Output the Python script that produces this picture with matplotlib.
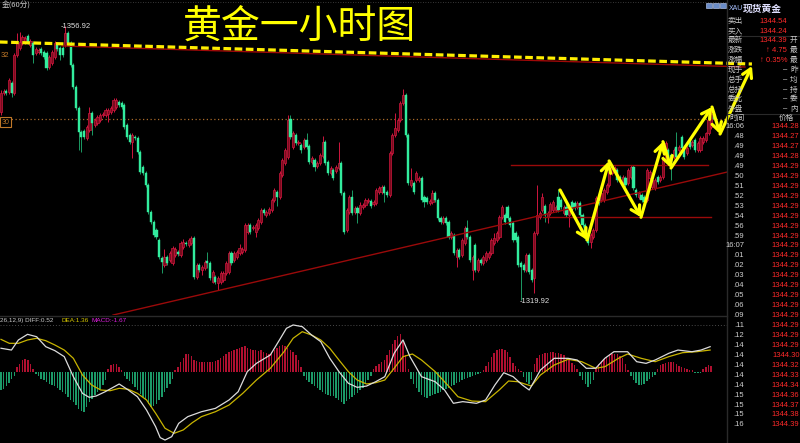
import numpy as np
import matplotlib
matplotlib.use('Agg')
import matplotlib.pyplot as plt

plt.rcParams['font.family'] = ['Noto Sans CJK SC', 'DejaVu Sans']

# ---------------- data: hourly candles (price) ----------------
opens = [1345.31, 1347.88, 1348.15, 1348.01, 1349.23, 1347.88, 1353.01, 1353.95, 1354.63, 1354.76,
 1355.57, 1354.36, 1354.63, 1353.28, 1353.41, 1353.82, 1353.41, 1353.28, 1351.39, 1351.93,
 1352.74, 1354.36, 1353.95, 1353.95, 1354.36, 1355.98, 1354.63, 1351.66, 1348.69, 1345.85,
 1342.61, 1342.75, 1341.80, 1342.88, 1345.18, 1343.56, 1343.83, 1344.23, 1344.91, 1344.91,
 1345.04, 1345.31, 1345.58, 1345.99, 1346.66, 1346.53, 1346.26, 1343.56, 1342.21, 1341.26,
 1341.94, 1341.80, 1339.91, 1337.89, 1337.08, 1335.46, 1331.81, 1330.46, 1329.38, 1328.03,
 1325.60, 1324.66, 1325.74, 1325.33, 1324.93, 1326.01, 1326.41, 1326.01, 1327.09, 1327.63,
 1327.36, 1327.63, 1328.30, 1323.04, 1324.66, 1323.98, 1324.25, 1325.20, 1324.93, 1322.36,
 1323.04, 1322.23, 1322.36, 1322.63, 1323.58, 1323.71, 1326.28, 1325.33, 1325.74, 1326.28,
 1326.41, 1326.68, 1329.11, 1330.06, 1329.65, 1329.11, 1329.65, 1330.46, 1332.08, 1331.41,
 1331.68, 1332.08, 1333.43, 1334.51, 1333.84, 1336.81, 1338.43, 1339.24, 1344.37, 1340.59,
 1342.21, 1341.13, 1340.86, 1340.59, 1341.53, 1340.72, 1338.56, 1338.83, 1338.02, 1338.43,
 1339.37, 1341.26, 1338.56, 1337.08, 1337.48, 1337.35, 1337.75, 1338.43, 1334.38, 1329.38,
 1331.81, 1333.84, 1331.81, 1332.35, 1331.68, 1332.49, 1332.76, 1333.30, 1333.30, 1332.89,
 1333.03, 1334.51, 1334.51, 1335.19, 1334.51, 1334.11, 1339.78, 1342.21, 1342.88, 1344.23,
 1346.53, 1347.61, 1342.21, 1335.46, 1335.73, 1336.13, 1336.13, 1336.40, 1333.84, 1333.70,
 1333.03, 1333.16, 1334.38, 1333.43, 1331.00, 1330.46, 1331.00, 1330.46, 1328.44, 1328.71,
 1325.74, 1326.68, 1326.01, 1327.63, 1329.65, 1328.44, 1323.98, 1327.36, 1323.98, 1325.33,
 1324.93, 1325.33, 1325.74, 1326.28, 1327.63, 1328.03, 1328.44, 1331.14, 1331.41, 1332.49,
 1331.00, 1330.33, 1328.98, 1328.44, 1324.93, 1324.66, 1323.98, 1326.01, 1323.98, 1322.90,
 1328.98, 1331.14, 1332.08, 1332.62, 1331.14, 1331.68, 1332.08, 1332.08, 1333.84, 1333.43,
 1331.68, 1332.49, 1331.41, 1333.16, 1333.03, 1332.49,
 1333.03, 1331.41, 1330.06, 1328.98, 1327.76, 1328.44, 1329.38, 1333.70, 1333.43, 1333.43,
 1334.51, 1335.46, 1337.08, 1337.21,
 1337.48, 1336.54, 1335.86, 1336.40, 1335.73, 1336.54, 1337.89, 1334.78, 1333.84, 1334.11, 1333.84,
 1333.43, 1336.40, 1335.19, 1335.05, 1336.54, 1336.13, 1336.54, 1339.10, 1340.18, 1339.51,
 1339.24, 1340.59, 1340.18, 1341.94, 1340.59,
 1339.78, 1341.53, 1340.86, 1341.53,
 1340.18, 1340.18, 1341.26, 1341.53, 1342.48, 1343.29, 1345.04]

closes = [1347.88, 1348.15, 1347.88, 1349.63, 1347.88, 1353.01, 1354.63, 1354.76, 1355.44, 1355.30,
 1354.76, 1354.90, 1353.01, 1353.82, 1353.68, 1353.28, 1352.74, 1351.25, 1352.74, 1353.41,
 1354.63, 1353.82, 1353.01, 1353.01, 1355.98, 1354.63, 1351.66, 1348.69, 1345.85, 1342.61,
 1341.94, 1341.94, 1343.29, 1345.18, 1343.83, 1344.23, 1344.64, 1344.91, 1345.04, 1345.58,
 1345.58, 1345.85, 1346.93, 1346.93, 1346.26, 1345.99, 1343.29, 1341.94, 1341.26, 1342.21,
 1341.80, 1339.91, 1337.21, 1337.08, 1335.46, 1331.81, 1330.46, 1328.71, 1328.44, 1325.74,
 1325.06, 1325.74, 1324.93, 1326.28, 1326.95, 1326.82, 1326.14, 1327.63, 1327.76, 1327.49,
 1328.03, 1328.30, 1323.04, 1324.66, 1323.98, 1324.39, 1325.06, 1324.93, 1322.90, 1323.71,
 1322.36, 1322.90, 1323.58, 1323.58, 1324.93, 1326.28, 1324.93, 1326.28, 1326.41, 1326.95,
 1326.82, 1330.06, 1330.06, 1329.11, 1329.79, 1330.06, 1330.73, 1332.08, 1331.68, 1331.81,
 1332.22, 1333.43, 1334.78, 1333.84, 1337.08, 1338.83, 1340.18, 1344.23, 1341.94, 1342.48,
 1341.13, 1341.26, 1340.18, 1341.53, 1340.59, 1338.56, 1339.10, 1337.89, 1338.43, 1339.51,
 1341.26, 1338.43, 1337.08, 1337.75, 1336.40, 1337.89, 1338.43, 1334.38, 1329.11, 1332.08,
 1333.84, 1331.68, 1332.35, 1331.68, 1332.76, 1332.76, 1333.43, 1333.43, 1332.62, 1333.16,
 1334.78, 1335.05, 1335.19, 1334.38, 1334.11, 1339.78, 1342.21, 1343.15, 1344.23, 1346.53,
 1347.61, 1342.21, 1335.73, 1336.13, 1334.51, 1337.08, 1336.40, 1333.43, 1333.16, 1333.16,
 1333.30, 1334.38, 1333.43, 1331.00, 1330.46, 1331.00, 1330.33, 1328.44, 1328.98, 1326.28,
 1326.68, 1325.74, 1328.03, 1329.65, 1328.44, 1325.33, 1325.74, 1323.98, 1325.33, 1324.93,
 1325.74, 1326.28, 1326.28, 1328.03, 1328.30, 1328.98, 1331.14, 1332.49, 1330.46, 1331.00,
 1330.06, 1328.03, 1328.03, 1324.66, 1324.39, 1323.98, 1326.01, 1323.71, 1322.63, 1328.98,
 1331.41, 1331.68, 1333.84, 1331.41, 1331.68, 1332.89, 1333.16, 1332.49, 1332.08, 1332.49,
 1332.49, 1331.41, 1332.35, 1332.08, 1332.35, 1333.03,
 1331.41, 1330.06, 1328.30, 1327.63, 1328.71, 1329.38, 1333.70, 1333.03, 1334.38, 1334.78,
 1335.46, 1337.21, 1337.89, 1337.75,
 1336.13, 1336.13, 1336.54, 1335.46, 1337.48, 1337.89, 1335.05, 1334.11, 1334.38, 1333.43, 1333.16,
 1337.48, 1337.21, 1336.13, 1336.13, 1335.86, 1336.54, 1339.10, 1341.13, 1338.43, 1338.16,
 1340.18, 1339.24, 1340.59, 1340.45, 1339.24,
 1340.45, 1340.59, 1341.26, 1340.18,
 1341.13, 1341.80, 1341.80, 1342.48, 1344.23, 1345.04, 1344.39]

highs = [1348.28, 1348.42, 1348.42, 1349.90, 1349.50, 1353.28, 1355.98, 1356.11, 1355.71, 1355.57,
 1355.84, 1355.17, 1354.90, 1354.09, 1353.95, 1354.09, 1353.68, 1353.55, 1353.01, 1353.68,
 1354.90, 1354.63, 1354.22, 1354.22, 1356.92, 1356.25, 1354.90, 1351.93, 1348.96, 1346.12,
 1342.88, 1343.02, 1343.56, 1345.99, 1345.45, 1344.50, 1344.91, 1345.18, 1345.31, 1345.85,
 1345.85, 1346.12, 1347.20, 1347.20, 1346.93, 1346.80, 1346.53, 1343.83, 1342.48, 1342.48,
 1342.21, 1342.07, 1340.18, 1338.16, 1337.35, 1335.73, 1332.08, 1330.73, 1329.65, 1328.30,
 1325.87, 1326.82, 1326.01, 1326.55, 1327.22, 1327.09, 1326.68, 1327.90, 1328.17, 1327.90,
 1328.30, 1328.57, 1328.57, 1324.93, 1324.93, 1324.66, 1325.33, 1326.41, 1325.20, 1323.98,
 1323.31, 1323.17, 1323.85, 1323.85, 1325.20, 1326.55, 1326.55, 1326.55, 1326.68, 1327.49,
 1327.09, 1330.33, 1330.33, 1330.33, 1330.06, 1330.33, 1331.00, 1332.35, 1332.35, 1332.08,
 1332.49, 1333.70, 1335.05, 1334.78, 1337.35, 1339.10, 1340.45, 1344.91, 1344.91, 1342.75,
 1342.48, 1341.53, 1341.13, 1341.80, 1342.48, 1340.99, 1339.37, 1339.10, 1338.70, 1339.78,
 1342.07, 1341.53, 1338.83, 1338.02, 1337.75, 1338.16, 1341.26, 1338.70, 1334.65, 1332.35,
 1334.11, 1334.78, 1332.62, 1332.62, 1333.16, 1333.03, 1333.70, 1333.70, 1333.57, 1333.43,
 1335.05, 1335.32, 1335.46, 1335.46, 1334.78, 1340.05, 1342.48, 1345.18, 1344.50, 1346.80,
 1348.42, 1347.88, 1342.48, 1337.75, 1336.00, 1337.35, 1336.67, 1336.67, 1334.11, 1333.97,
 1333.57, 1334.78, 1334.65, 1333.70, 1331.27, 1331.27, 1331.27, 1330.73, 1329.25, 1328.98,
 1326.95, 1326.95, 1328.30, 1329.92, 1330.73, 1328.71, 1326.01, 1327.63, 1325.60, 1325.60,
 1326.01, 1326.55, 1326.55, 1328.30, 1328.98, 1329.25, 1331.41, 1332.76, 1331.68, 1332.76,
 1331.27, 1330.60, 1329.25, 1328.71, 1325.20, 1324.93, 1326.28, 1326.28, 1324.25, 1329.25,
 1335.46, 1331.95, 1334.38, 1332.89, 1331.95, 1333.16, 1333.43, 1332.76, 1334.92, 1333.70,
 1332.76, 1333.43, 1332.62, 1333.43, 1333.30, 1333.30,
 1333.30, 1331.68, 1330.33, 1329.25, 1328.98, 1329.65, 1333.97, 1333.97, 1334.65, 1335.05,
 1335.73, 1337.48, 1338.16, 1338.02,
 1337.75, 1336.81, 1336.81, 1336.67, 1337.75, 1338.16, 1338.16, 1335.05, 1334.65, 1334.38, 1334.11,
 1337.75, 1337.48, 1336.40, 1336.40, 1336.81, 1336.81, 1339.37, 1341.40, 1340.45, 1339.78,
 1340.45, 1342.61, 1340.86, 1342.21, 1340.86,
 1340.72, 1341.80, 1341.53, 1341.80,
 1341.40, 1342.07, 1342.07, 1342.61, 1344.50, 1345.58, 1345.31]

lows = [1344.91, 1347.61, 1347.61, 1347.74, 1347.34, 1347.61, 1352.74, 1353.68, 1354.36, 1354.49,
 1354.49, 1354.09, 1351.93, 1353.01, 1353.14, 1353.01, 1352.47, 1350.98, 1351.12, 1351.66,
 1352.47, 1353.55, 1352.33, 1352.74, 1354.09, 1354.36, 1351.39, 1348.42, 1345.58, 1340.18,
 1339.91, 1341.67, 1341.53, 1342.61, 1342.21, 1343.29, 1343.56, 1343.96, 1344.64, 1344.64,
 1343.96, 1345.04, 1345.31, 1345.72, 1345.99, 1345.72, 1343.02, 1341.67, 1340.99, 1339.10,
 1341.53, 1339.64, 1336.94, 1336.81, 1335.19, 1331.54, 1330.19, 1328.44, 1328.17, 1325.47,
 1323.58, 1324.39, 1324.66, 1325.06, 1324.66, 1325.74, 1325.87, 1325.74, 1326.82, 1327.22,
 1327.09, 1327.36, 1322.77, 1322.77, 1323.71, 1323.31, 1323.98, 1324.25, 1322.63, 1322.23,
 1322.09, 1321.28, 1322.09, 1322.36, 1323.31, 1323.44, 1324.66, 1325.06, 1325.47, 1326.01,
 1326.14, 1326.41, 1328.84, 1328.84, 1329.38, 1328.44, 1329.38, 1330.19, 1331.41, 1331.14,
 1331.41, 1331.81, 1333.16, 1332.62, 1333.57, 1336.54, 1338.16, 1338.97, 1341.67, 1340.32,
 1340.86, 1340.86, 1339.78, 1340.32, 1340.32, 1338.29, 1338.29, 1337.35, 1337.75, 1338.16,
 1339.10, 1338.16, 1336.81, 1336.81, 1336.13, 1337.08, 1337.48, 1334.11, 1328.84, 1329.11,
 1331.54, 1331.41, 1331.54, 1330.33, 1331.41, 1332.22, 1332.49, 1333.03, 1332.35, 1332.62,
 1332.76, 1334.24, 1334.24, 1333.16, 1333.84, 1333.84, 1339.51, 1341.94, 1342.61, 1343.96,
 1346.26, 1341.94, 1335.46, 1335.19, 1334.24, 1335.86, 1335.86, 1333.16, 1332.49, 1332.89,
 1332.76, 1332.89, 1333.16, 1330.73, 1330.19, 1330.19, 1330.06, 1328.17, 1328.17, 1326.01,
 1324.39, 1325.47, 1325.74, 1327.36, 1328.17, 1325.06, 1322.63, 1323.71, 1323.71, 1324.66,
 1324.66, 1325.06, 1325.47, 1326.01, 1327.36, 1327.76, 1328.17, 1330.87, 1330.19, 1330.73,
 1329.79, 1327.76, 1327.76, 1324.39, 1319.92, 1323.71, 1323.71, 1323.44, 1322.36, 1320.88,
 1328.71, 1330.87, 1331.81, 1330.46, 1330.33, 1331.41, 1331.81, 1331.81, 1331.81, 1332.22,
 1331.41, 1331.14, 1329.79, 1331.81, 1332.08, 1332.22,
 1331.14, 1329.79, 1328.03, 1327.36, 1326.95, 1328.17, 1329.11, 1332.76, 1333.16, 1333.16,
 1334.24, 1335.19, 1336.81, 1336.94,
 1335.86, 1335.86, 1335.59, 1335.19, 1335.46, 1336.27, 1334.78, 1333.84, 1333.57, 1333.16, 1332.89,
 1333.16, 1336.13, 1334.92, 1334.78, 1335.59, 1335.86, 1336.27, 1338.83, 1338.16, 1336.13,
 1338.97, 1338.97, 1339.91, 1340.18, 1338.97,
 1339.51, 1340.32, 1340.59, 1339.91,
 1339.91, 1339.91, 1340.99, 1341.26, 1342.21, 1343.02, 1344.23]

last_price = 1344.39
high_price = 1356.92
low_price = 1319.92

# ---------------- data: MACD(12,26,9) ----------------
macd_hist = [-1.53, -1.4, -1.2, -0.9, -0.6, -0.3,
 0.42, 0.69, 0.97, 1.11, 1.03, 0.69, 0.28,
 -0.19, -0.36, -0.56, -0.69, -0.83, -0.97, -1.11, -1.19, -1.31, -1.47,
 -1.67, -1.86, -2.08, -2.31, -2.5, -2.78, -3.06, -3.25, -3.33, -2.92,
 -2.5, -2.22, -1.94, -1.67, -1.39, -1.11, -0.69,
 0.28, 0.56, 0.69, 0.64, 0.42, 0.14,
 -0.36, -0.56, -0.75, -1.03, -1.25, -1.53, -1.81, -2.08, -2.36, -2.69,
 -2.92, -2.86, -2.64, -2.36, -2.08, -1.67, -1.31, -0.97, -0.56,
 0.14, 0.42, 0.83, 1.19, 1.47, 1.53, 1.31, 1.03, 0.92, 0.86,
 0.81, 0.83, 0.86, 0.81, 0.83, 0.92, 1.03, 1.19, 1.36, 1.53,
 1.64, 1.75, 1.86, 1.94, 2.03, 2.08, 2.14, 2.03, 1.92, 1.86,
 1.81, 1.75, 1.81, 1.69, 1.58, 1.53, 1.67, 1.86, 2.03, 2.14,
 2.22, 2.14, 2.03, 1.86, 1.67, 1.39, 0.97, 0.42,
 -0.36, -0.64, -0.83, -1.03, -1.19, -1.36, -1.53, -1.69, -1.81, -1.89,
 -1.97, -2.03, -2.14, -2.31, -2.5, -2.64, -2.42, -2.25, -2.08, -1.92,
 -1.75, -1.53, -1.31, -1.03, -0.69, -0.36,
 0.28, 0.47, 0.69, 0.83, 1.03, 1.39, 1.86, 2.36, 2.69, 2.97,
 3.19, 2.5, 1.39, 0.28,
 -0.56, -0.97, -1.31, -1.67, -1.94, -2.08, -2.14, -2.03, -1.92, -1.81,
 -1.72, -1.64, -1.53, -1.44, -1.36, -1.19, -1.06, -0.92, -0.81, -0.69,
 -0.61, -0.53, -0.44, -0.36, -0.28, -0.19, -0.08,
 0.19, 0.47, 0.83, 1.25, 1.58, 1.81, 1.92, 1.94, 1.86, 1.67,
 1.25, 0.75, 0.47, 0.25, 0.08,
 -0.42, -0.83, -0.97, -0.69,
 0.69, 1.19, 1.39, 1.53, 1.58, 1.61, 1.64, 1.67, 1.61, 1.58,
 1.53, 1.39, 1.19, 0.97, 0.78, 0.56, 0.28,
 -0.36, -0.69, -1.03, -1.25, -1.03, -0.64,
 0.28, 0.64, 0.92, 1.11, 1.25, 1.39, 1.47, 1.53, 1.47, 1.36,
 1.19, 0.69, 0.19,
 -0.36, -0.69, -0.92, -1.06, -1.11, -0.97, -0.75, -0.56, -0.42, -0.28,
 0.28, 0.56, 0.69, 0.75, 0.81, 0.83, 0.81, 0.69, 0.53, 0.42,
 0.33, 0.25, 0.19, 0.14,
 -0.08, -0.08, -0.08,
 0.28, 0.42, 0.56, 0.47]

diff_bar = [0, 3.9, 6.5, 9.9, 13.3, 16.7, 20.1, 23.6, 27.0, 30.4, 32.9, 35.5, 38.9, 44.1, 47.5,
 50.9, 54.3, 57.7, 59.4, 61.2, 63.7, 66.3, 69.7, 74.8, 80.0, 85.1, 88.5, 91.9, 95.3, 100.5,
 103.9, 106.5, 109.0, 112.4, 115.9, 119.3, 122.7, 126.1, 129.6, 132.9, 136.4, 139.8, 143.2,
 146.7, 150.0, 152.6, 156.9, 162.0, 165.5, 168.8, 172.3, 177.4, 180.8, 184.3, 187.6, 191.1,
 194.5, 197.1, 201.3, 206.4, 211.6, 215.0, 218.4, 221.9, 225.3, 228.7, 233.8, 237.2, 240.7,
 244.1, 249.2, 252.6, 257.8, 261.2, 264.6]
diff_vals = [1.98, 1.83, 2.67, 3.14, 2.94, 2.11, 1.78, 1.28, -0.39, -1.78, -2.11, -2.0, -1.64, -1.0, -1.5,
 -2.06, -3.17, -4.56, -5.47, -5.67, -5.39, -4.28, -3.72, -3.31, -3.03, -2.33, -1.64, 0.03, 0.72, 1.42,
 2.67, 3.64, 3.92, 3.78, 3.08, 2.53, 1.14, 0.03, -0.94, -1.28, -1.17, -0.81, -0.39,
 1.56, 2.67, 1.28, -0.39, -0.81, -1.5, -2.61, -2.47, -2.61, -2.33, -1.08, -0.06, -0.39,
 -1.08, -1.5, 0.17, 1.14, 1.14, 1.0, 0.31, 0.31, 1.14, 1.69, 1.69, 0.86, 0.72,
 1.0, 1.56, 1.83, 1.69, 1.83, 2.11]

dea_bar = [0, 3.1, 6.5, 9.9, 13.3, 16.7, 20.1, 23.6, 27.0, 30.4, 33.8, 37.2, 40.7, 44.1, 47.5,
 50.9, 54.3, 57.7, 61.2, 64.6, 68.0, 71.4, 74.8, 80.0, 85.1, 90.2, 95.3, 100.5, 105.6, 109.0,
 112.4, 115.9, 119.3, 122.7, 126.1, 129.6, 132.9, 136.4, 139.8, 143.2, 146.7, 150.0, 153.5,
 156.9, 162.0, 167.2, 170.5, 175.7, 180.8, 185.9, 189.4, 192.8, 197.9, 201.3, 206.4, 211.6,
 216.7, 221.9, 225.3, 230.4, 233.8, 238.9, 244.1, 249.2, 254.3, 259.5, 264.6]
dea_vals = [2.72, 2.39, 2.39, 2.67, 2.81, 2.61, 2.25, 1.83, 1.14, -0.25, -1.08, -1.5, -1.56, -1.36, -1.44,
 -1.78, -2.33, -3.44, -4.69, -5.11, -4.83, -4.22, -3.72, -3.31, -2.75, -1.78, -0.67, 0.31, 1.69, 2.81,
 3.36, 3.08, 2.67, 1.97, 1.0, 0.03, -0.67, -1.0, -0.89, -0.67, 0.31, 1.28, 1.5,
 1.0, 0.03, -1.22, -2.06, -2.42, -2.47, -1.5, -0.75, -0.81, -1.17, -0.25, 0.58, 1.06,
 0.86, 0.31, 0.44, 1.14, 1.5, 1.14, 0.86, 1.28, 1.61, 1.69, 1.83]

macd_params = '26,12,9)'
diff_label, dea_label, macd_label = 0.52, 1.36, -1.67

# ---------------- data: analyst drawings (bar index, price) ----------------
support_bar = [41.8, 270.9]
support_price = [1317.9, 1337.2]
resist_bar = [-0.4, 280.2]
resist_price = [1354.76, 1351.79]
resist2_bar = [22.8, 277.6]
resist2_price = [1354.22, 1351.39]
box_top_bar = [190.3, 263.8]
box_top_price = 1338.15
box_bot_bar = [202.2, 264.9]
box_bot_price = 1331.13
zigzag_bar = [208.6, 218.7, 226.9, 238.8, 247.0, 250.0, 265.3, 268.3, 280.2]
zigzag_price = [1334.78, 1328.03, 1338.7, 1331.1, 1341.3, 1337.75, 1345.98, 1342.34, 1351.52]

# ---------------- data: quote board ----------------
quote_labels = ['卖出', '买入', '最新', '涨跌', '涨幅', '现手', '总手', '总持', '委比', '外盘']
quote_values = ['1344.54', '1344.24', '1344.39', '↑ 4.75', '↑ 0.35%', '–', '–', '–', '–', '–']
quote_right = ['', '', '开', '最', '最', '昨', '均', '持', '委', '内']
tick_times = ['16:06', '.48', '.49', '.49', '.49', '.50', '.51', '.52', '.53', '.54', '.56', '.59',
              '16:07', '.01', '.02', '.03', '.04', '.05', '.06', '.09', '.11', '.12', '.14', '.14',
              '.14', '.14', '.14', '.15', '.15', '.15', '.16']
tick_prices = [1344.28, 1344.27, 1344.27, 1344.28, 1344.29, 1344.29, 1344.29, 1344.29, 1344.29,
               1344.29, 1344.29, 1344.29, 1344.29, 1344.29, 1344.29, 1344.29, 1344.29, 1344.29,
               1344.29, 1344.29, 1344.29, 1344.29, 1344.29, 1344.30, 1344.32, 1344.33, 1344.34,
               1344.36, 1344.37, 1344.38, 1344.39]

# ---------------- figure ----------------
W, H = 800, 443
fig = plt.figure(figsize=(W / 100, H / 100), dpi=100, facecolor='black')


def rect(x0, y0, x1, y1):
    return [x0 / W, 1 - y1 / H, (x1 - x0) / W, (y1 - y0) / H]


STEP = 2.68
XLIM = (-1 / STEP, 726 / STEP)
NUMF = ['Liberation Sans', 'DejaVu Sans']

# main candle panel
ax = fig.add_axes(rect(0, 0, 727, 315))
ax.set_xlim(*XLIM)
ax.set_ylim(1317.905, 1360.43)
ax.axis('off')

n = min(len(opens), len(closes), len(highs), len(lows))
o = np.array(opens[:n]); c = np.array(closes[:n])
h = np.array(highs[:n]); l = np.array(lows[:n])
idx = np.arange(n)
up = c >= o
RED_FACE, RED_EDGE = '#7a0c1e', '#d0163e'
GREEN, GREEN_WICK = '#32ec9e', '#1c9a64'

ax.vlines(idx[up], l[up], h[up], color=RED_EDGE, lw=0.7, zorder=2)
ax.vlines(idx[~up], l[~up], h[~up], color=GREEN_WICK, lw=0.7, zorder=2)
blo = np.minimum(o, c)
bh = np.maximum(np.abs(c - o), 0.12)
ax.bar(idx[up], bh[up], bottom=blo[up], width=0.8, color=RED_FACE,
       edgecolor=RED_EDGE, linewidth=0.5, zorder=3)
ax.bar(idx[~up], bh[~up], bottom=blo[~up], width=0.8, color=GREEN,
       edgecolor=GREEN, linewidth=0.3, zorder=3)

# current price dotted line
ax.axhline(last_price, color='#a86a2a', lw=0.9, ls=(0, (1, 2)), zorder=1)

# analyst lines
ax.plot(support_bar, support_price, color='#9a0a0a', lw=1.0, zorder=4)
ax.plot(box_top_bar, [box_top_price] * 2, color='#9a0a0a', lw=1.0, zorder=4)
ax.plot(box_bot_bar, [box_bot_price] * 2, color='#9a0a0a', lw=1.0, zorder=4)
ax.plot(resist2_bar, resist2_price, color='#a00808', lw=1.0, zorder=4, clip_on=False)
ax.plot(resist_bar, resist_price, color='#ffee00', lw=2.3, ls=(0, (2.4, 1.1)),
        zorder=5, clip_on=False)
for k in range(len(zigzag_bar) - 1):
    ax.annotate('', xy=(zigzag_bar[k + 1], zigzag_price[k + 1]),
                xytext=(zigzag_bar[k], zigzag_price[k]),
                arrowprops=dict(arrowstyle='->,head_length=0.6,head_width=0.35',
                                color='#ffff00', lw=2.3, shrinkA=0, shrinkB=0),
                annotation_clip=False, zorder=6)

# extreme labels
hi_i = int(np.argmax(h)); lo_i = int(np.argmin(l))
ax.annotate('-%.2f' % high_price, xy=(hi_i, high_price), xytext=(-3.5, 0),
            textcoords='offset points', color='#e0e0e0', fontsize=5.5,
            va='center', ha='left', family=NUMF)
ax.annotate('-%.2f' % low_price, xy=(lo_i, low_price), xytext=(-1, -1),
            textcoords='offset points', color='#e0e0e0', fontsize=5.5,
            va='center', ha='left', family=NUMF)

# MACD panel
axm = fig.add_axes(rect(0, 316, 727, 443))
axm.set_xlim(*XLIM)
axm.set_ylim(-5.917, 4.667)
axm.axis('off')
hv = np.array(macd_hist)
hidx = np.arange(len(hv))
axm.bar(hidx, hv, width=0.55, color=np.where(hv >= 0, '#b01030', '#1b9a68'), linewidth=0)
axm.axhline(3.92, color='#4a4a4a', lw=0.7, ls=(0, (1, 2)))
axm.plot(dea_bar, dea_vals, color='#c8b400', lw=0.9)
axm.plot(diff_bar, diff_vals, color='#dcdcdc', lw=0.9)

# overlay in pixel space for panel chrome
axo = fig.add_axes([0, 0, 1, 1])
axo.set_xlim(0, W)
axo.set_ylim(H, 0)
axo.axis('off')

axo.plot([0, 727], [2, 2], color='#4a4a4a', lw=0.6, ls=(0, (1, 2)))
axo.plot([0, 727], [316, 316], color='#2a2a2a', lw=1.0)
axo.plot([727, 727], [0, H], color='#2a2a2a', lw=1.0)
axo.text(2, 6, '金(60分)', color='#c8c8c8', fontsize=5.5, va='center', ha='left')
axo.text(0.5, 55, '32', color='#c07828', fontsize=5.5, va='center', ha='left', family=NUMF)
axo.text(1.5, 122, '30', color='#c07828', fontsize=5, va='center', ha='left', family=NUMF,
         bbox=dict(boxstyle='square,pad=0.2', fc='black', ec='#c07828', lw=0.8))

# title
axo.text(299, 27, '黄金一小时图', color='#ffff00', fontsize=28, ha='center', va='center')

# MACD legend
axo.text(0.5, 320.5, macd_params + ' DIFF:%.2f' % diff_label, color='#c8c8c8', fontsize=4.6,
         va='center', ha='left', family=NUMF)
axo.text(61, 320.5, 'DEA:%.2f' % dea_label, color='#d8c800', fontsize=4.6, va='center',
         ha='left', family=NUMF)
axo.text(91, 320.5, 'MACD:%.2f' % macd_label, color='#e020e0', fontsize=4.6, va='center',
         ha='left', family=NUMF)

# quote board header
for bx in (706, 713, 720):
    axo.add_patch(plt.Rectangle((bx, 2.5), 5.5, 5.5, fc='#6a8cc8', ec='#c8d8ff', lw=0.4))
axo.text(729, 8.5, 'XAU', color='#a8c0ff', fontsize=5, va='center', ha='left', family=NUMF)
axo.text(743, 8.5, '现货黄金', color='#e0e0ff', fontsize=7, va='center', ha='left',
         fontweight='bold')
axo.plot([727, 800], [35.5, 35.5], color='#2a2a2a', lw=0.8)
axo.plot([727, 800], [113.5, 113.5], color='#2a2a2a', lw=0.8)

row_y = [21, 31, 40, 50, 60, 70, 80, 89.5, 99, 109]
for k, lab in enumerate(quote_labels):
    y = row_y[k]
    axo.text(728, y, lab, color='#c8c8c8', fontsize=5.5, va='center', ha='left')
    val = quote_values[k]
    col = '#ff2a2a' if k < 5 else '#e0e0e0'
    axo.text(787, y, val, color=col, fontsize=5.5, va='center', ha='right', family=NUMF)
    if quote_right[k]:
        axo.text(790, y, quote_right[k], color='#c8c8c8', fontsize=5.5, va='center',
                 ha='left')

axo.text(729, 118, '时间', color='#c8c8c8', fontsize=5.5, va='center', ha='left')
axo.text(779, 118, '价格', color='#c8c8c8', fontsize=5.5, va='center', ha='left')
for k, (t, p) in enumerate(zip(tick_times, tick_prices)):
    y = 126.7 + 9.94 * k
    axo.text(744, y, t, color='#d0d0d0', fontsize=5.5, va='center', ha='right', family=NUMF)
    axo.text(799.5, y, '%.2f' % p, color='#ff2a2a', fontsize=5.5, va='center', ha='right',
             family=NUMF)

fig.savefig('out.png', dpi=100, facecolor='black')
